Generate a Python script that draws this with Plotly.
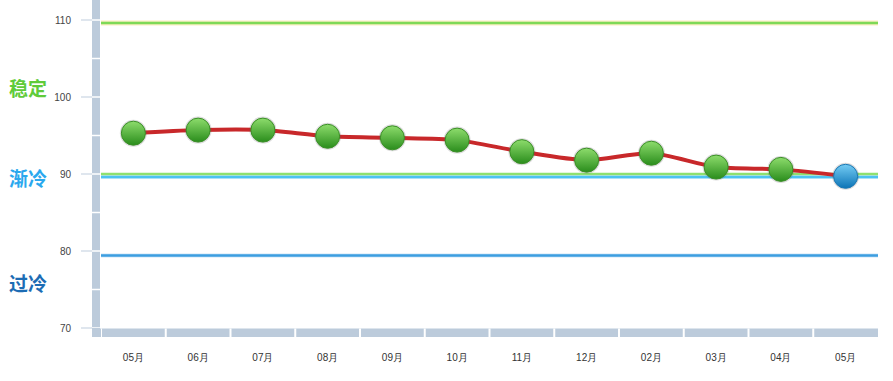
import plotly.graph_objects as go

months = ["05月", "06月", "07月", "08月", "09月", "10月", "11月", "12月", "02月", "03月", "04月", "05月"]
values = [95.3, 95.7, 95.7, 94.9, 94.7, 94.4, 92.9, 91.8, 92.7, 90.9, 90.6, 89.7]
y_ticks = [70, 80, 90, 100, 110]
zone_labels = ["稳定", "渐冷", "过冷"]
zone_label_y = [101.2, 89.6, 75.9]
zone_colors = ["#5fcb3a", "#2aa8ee", "#1c6cb4"]
threshold_stable = 109.6
threshold_cool_green = 90.0
threshold_cool_blue = 89.6
threshold_cold = 79.4

W, H = 893, 381
L, R, T, B = 101, 15, 0, 53
PW, PH = W - L - R, H - T - B
Y0, Y1 = 70, 70 + PH / 7.7

def px(x):
    return (x - L) / PW

def py(y):
    return (H - B - y) / PH

n = len(months)
xs = list(range(n))

fig = go.Figure()

def hline(yv, color, width, glow=None, gw=0):
    if glow:
        fig.add_shape(type="line", xref="paper", yref="y", x0=0, x1=1, y0=yv, y1=yv,
                      line=dict(color=glow, width=gw), layer="below")
    fig.add_shape(type="line", xref="paper", yref="y", x0=0, x1=1, y0=yv, y1=yv,
                  line=dict(color=color, width=width), layer="below")

hline(threshold_stable, "#7ed957", 2.5, "#fbeec0", 5)
hline(threshold_cool_blue, "#4cc3f2", 2.5, "#c9ecfa", 4)
hline(threshold_cool_green, "#8fe06f", 2.5)
hline(threshold_cold, "#3d9ee0", 2.5, "#cfe6f7", 4)

fig.add_trace(go.Scatter(x=xs, y=values, mode="lines",
                         line=dict(color="#c8282a", width=4, shape="spline", smoothing=0.8),
                         hoverinfo="skip", showlegend=False))

fig.add_trace(go.Scatter(x=xs, y=values, mode="markers",
                         marker=dict(size=27, color="rgba(90,90,90,0.22)", line=dict(width=0)),
                         hoverinfo="skip", showlegend=False))

fig.add_trace(go.Scatter(x=xs[:-1], y=values[:-1], mode="markers",
                         marker=dict(size=24, color="#8ddc6c",
                                     gradient=dict(type="vertical", color="#2a8d1c"),
                                     line=dict(color="#3a8f26", width=1)),
                         showlegend=False))
fig.add_trace(go.Scatter(x=xs[-1:], y=values[-1:], mode="markers",
                         marker=dict(size=24, color="#74ccf4",
                                     gradient=dict(type="vertical", color="#0c74b6"),
                                     line=dict(color="#1a78b5", width=1)),
                         showlegend=False))

bar_col = "#bccbdb"
fig.add_shape(type="rect", xref="paper", yref="paper", x0=px(92), x1=px(100), y0=py(337), y1=1,
              fillcolor=bar_col, line=dict(width=0), layer="above")
for v in range(75, 115, 5):
    fig.add_shape(type="line", xref="paper", yref="y", x0=px(92), x1=px(100), y0=v, y1=v,
                  line=dict(color="white", width=1.5), layer="above")
fig.add_shape(type="line", xref="paper", yref="y", x0=px(92), x1=px(100), y0=Y0, y1=Y0,
              line=dict(color="white", width=1.5), layer="above")
fig.add_shape(type="rect", xref="paper", yref="paper", x0=px(92), x1=1, y0=py(337), y1=py(328.5),
              fillcolor=bar_col, line=dict(width=0), layer="above")
for i in range(n):
    fig.add_shape(type="line", xref="x", yref="paper", x0=i - 0.5, x1=i - 0.5, y0=py(337), y1=py(328.5),
                  line=dict(color="white", width=2), layer="above")

for txt, yv, c in zip(zone_labels, zone_label_y, zone_colors):
    fig.add_annotation(xref="paper", yref="y", x=px(7), y=yv, text="<b>%s</b>" % txt,
                       showarrow=False, xanchor="left", yanchor="middle",
                       font=dict(family="Noto Sans CJK SC", size=19, color=c))

fig.update_layout(
    width=W, height=H,
    margin=dict(l=L, r=R, t=T, b=B),
    paper_bgcolor="white", plot_bgcolor="white",
    xaxis=dict(range=[-0.5, n - 0.5], tickvals=xs, ticktext=months, showgrid=False,
               zeroline=False, showline=False, ticks="", ticklabelstandoff=22,
               tickfont=dict(family="Liberation Sans", size=10, color="#333")),
    yaxis=dict(range=[Y0, Y1], tickvals=y_ticks, showgrid=False, zeroline=False,
               showline=False, ticks="outside", ticklen=19, tickcolor="#dfe6ee", tickwidth=1.5,
               ticklabelstandoff=8,
               tickfont=dict(family="Liberation Sans", size=10, color="#444")),
)

fig.write_html("out.html", config={"displayModeBar": False},
               post_script="document.body.style.margin='0';")
